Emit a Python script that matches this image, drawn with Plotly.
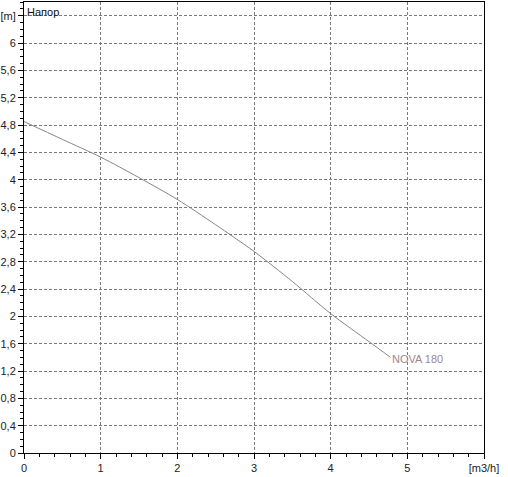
import plotly.graph_objects as go

flow = [0, 0.5, 1, 1.5, 2, 2.5, 3, 3.5, 4, 4.5, 4.78]
head = [4.85, 4.59, 4.33, 4.03, 3.71, 3.34, 2.95, 2.51, 2.04, 1.63, 1.40]
series_name = "NOVA 180"

x_ticks = [0, 1, 2, 3, 4, 5, 6]
x_labels = ["0", "1", "2", "3", "4", "5", "[m3/h]"]
y_ticks = [0, 0.4, 0.8, 1.2, 1.6, 2.0, 2.4, 2.8, 3.2, 3.6, 4.0, 4.4, 4.8, 5.2, 5.6, 6.0, 6.4]
y_labels = ["0", "0,4", "0,8", "1,2", "1,6", "2", "2,4", "2,8", "3,2", "3,6", "4", "4,4", "4,8", "5,2", "5,6", "6", "[m]"]
y_title = "Напор"

fig = go.Figure()
fig.add_trace(go.Scatter(
    x=flow, y=head, mode="lines", name=series_name,
    line=dict(color="#8a8387", width=1, shape="spline", smoothing=0.8),
    hoverinfo="skip", showlegend=False,
))

fig.add_annotation(
    x=flow[-1], y=head[-1], text=series_name, showarrow=False,
    xanchor="left", yanchor="middle", xshift=0, yshift=-2,
    font=dict(family="Liberation Sans, Arial, sans-serif", size=11, color="#a08590"),
)
fig.add_annotation(
    xref="paper", yref="paper", x=0.003, y=1.0, text=y_title, showarrow=False,
    xanchor="left", yanchor="top", yshift=-2,
    font=dict(family="Liberation Sans, Arial, sans-serif", size=11, color="#111"),
)

axis_common = dict(
    showline=True, linecolor="#000", linewidth=1, mirror=True,
    ticks="outside", tickcolor="#000", tickwidth=1, ticklen=5,
    showgrid=True, gridcolor="#7a7a7a", gridwidth=1, griddash="3px,2px",
    zeroline=False, automargin=False,
    tickfont=dict(family="Liberation Sans, Arial, sans-serif", size=11, color="#222"),
)

fig.update_xaxes(
    range=[0, 6], tickvals=x_ticks, ticktext=x_labels, ticklabelstandoff=0,
    minor=dict(dtick=0.2, tick0=0, ticks="outside", ticklen=3, tickcolor="#000", showgrid=False),
    **axis_common,
)
fig.update_yaxes(
    range=[0, 6.6], tickvals=y_ticks, ticktext=y_labels, ticklabelstandoff=0,
    minor=dict(dtick=0.1, tick0=0, ticks="outside", ticklen=3, tickcolor="#000", showgrid=False),
    **axis_common,
)

fig.update_layout(
    width=508, height=477,
    margin=dict(l=24, r=24, t=2, b=24),
    plot_bgcolor="#fff", paper_bgcolor="#fff",
)

fig.write_html(
    "out.html",
    config={"displayModeBar": False},
    post_script="document.body.style.margin='0px';document.body.style.overflow='hidden';",
)
